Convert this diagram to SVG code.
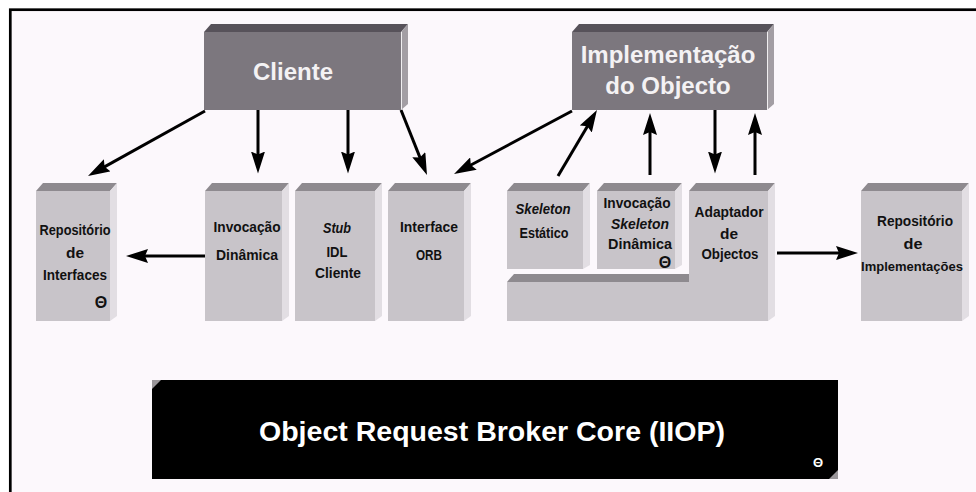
<svg xmlns="http://www.w3.org/2000/svg" width="976" height="492" viewBox="0 0 976 492">
<defs>
<style>
.face{fill:#c8c4c9}
.top{fill:#8e8a8f}
.side{fill:#e2dee3}
.bface{fill:#7c777e}
.btop{fill:#57525a}
.bside{fill:#a39ea4}
text{font-family:"Liberation Sans",Arial,sans-serif;font-weight:bold;text-anchor:middle}
.t{font-size:15.5px;fill:#111}
.i{font-style:italic}
.big{font-size:24px;fill:#f4f2f4}
.core{font-size:27px;fill:#fff}
.theta{font-size:16px;fill:#111}
.conn line{stroke:#000;stroke-width:3}
</style>
<marker id="ah" viewBox="0 0 22 14" refX="14" refY="7" markerWidth="22" markerHeight="14" markerUnits="userSpaceOnUse" orient="auto">
<path d="M0,0 L22,7 L0,14 L3,7 z" fill="#000"/>
</marker>
</defs>
<rect x="0" y="0" width="976" height="492" fill="#ffffff"/>
<rect x="10.3" y="9.7" width="980" height="500" fill="#fcf8fc" stroke="#000" stroke-width="2.7"/>

<g id="cliente">
<polygon class="btop" points="204,32 211,24 408,24 401,32"/>
<polygon class="bside" points="401,32 408,24 408,104 401,110"/>
<rect class="bface" x="204" y="32" width="197" height="78"/>
<line x1="401.5" y1="32" x2="401.5" y2="110" stroke="#f0eef0" stroke-width="1"/>
<text class="big" x="293" y="80">Cliente</text>
</g>

<g id="implementacao">
<polygon class="btop" points="572,32 579,24 774,24 767,32"/>
<polygon class="bside" points="767,32 774,24 774,104 767,110"/>
<rect class="bface" x="572" y="32" width="195" height="78"/>
<line x1="767.5" y1="32" x2="767.5" y2="110" stroke="#f0eef0" stroke-width="1"/>
<text class="big" x="668" y="63">Implementação</text>
<text class="big" x="668" y="94">do Objecto</text>
</g>

<g id="repositorio-interfaces">
<polygon class="top" points="36,191 43,183 117,183 110,191"/>
<polygon class="side" points="110,191 117,183 117,316 110,321"/>
<rect class="face" x="36" y="191" width="74" height="130"/>
<text class="t" x="75" y="235" textLength="71" lengthAdjust="spacingAndGlyphs">Repositório</text>
<text class="t" x="75" y="258" textLength="18" lengthAdjust="spacingAndGlyphs">de</text>
<text class="t" x="75" y="280" textLength="64" lengthAdjust="spacingAndGlyphs">Interfaces</text>
<text class="theta" x="101" y="308">Θ</text>
</g>

<g id="invocacao-dinamica">
<polygon class="top" points="205,191 212,183 289,183 282,191"/>
<polygon class="side" points="282,191 289,183 289,316 282,321"/>
<rect class="face" x="205" y="191" width="77" height="130"/>
<text class="t" x="247" y="232" textLength="67" lengthAdjust="spacingAndGlyphs">Invocação</text>
<text class="t" x="247" y="260" textLength="62" lengthAdjust="spacingAndGlyphs">Dinâmica</text>
</g>

<g id="stub-idl-cliente">
<polygon class="top" points="295,191 302,183 382,183 375,191"/>
<polygon class="side" points="375,191 382,183 382,316 375,321"/>
<rect class="face" x="295" y="191" width="80" height="130"/>
<text class="t i" x="337" y="233" textLength="28" lengthAdjust="spacingAndGlyphs">Stub</text>
<text class="t" x="337" y="257" textLength="21" lengthAdjust="spacingAndGlyphs">IDL</text>
<text class="t" x="338" y="278" textLength="46" lengthAdjust="spacingAndGlyphs">Cliente</text>
</g>

<g id="interface-orb">
<polygon class="top" points="388,191 395,183 471,183 464,191"/>
<polygon class="side" points="464,191 471,183 471,316 464,321"/>
<rect class="face" x="388" y="191" width="76" height="130"/>
<text class="t" x="429" y="232" textLength="58" lengthAdjust="spacingAndGlyphs">Interface</text>
<text class="t" x="429" y="260" textLength="26" lengthAdjust="spacingAndGlyphs">ORB</text>
</g>

<g id="base-skeleton">
<polygon class="top" points="507,282 514,274 696,274 689,282"/>
<rect class="face" x="507" y="282" width="182" height="39"/>
</g>

<g id="skeleton-estatico">
<polygon class="top" points="507,191 514,183 590,183 583,191"/>
<polygon class="side" points="583,191 590,183 590,265 583,269"/>
<rect class="face" x="507" y="191" width="76" height="78"/>
<text class="t i" x="543" y="214" textLength="55" lengthAdjust="spacingAndGlyphs">Skeleton</text>
<text class="t" x="544" y="238" textLength="49" lengthAdjust="spacingAndGlyphs">Estático</text>
</g>

<g id="invocacao-skeleton-dinamica">
<polygon class="top" points="597,191 604,183 682,183 675,191"/>
<polygon class="side" points="675,191 682,183 682,265 675,269"/>
<rect class="face" x="597" y="191" width="78" height="78"/>
<text class="t" x="637" y="208" textLength="67" lengthAdjust="spacingAndGlyphs">Invocação</text>
<text class="t i" x="640" y="229" textLength="58" lengthAdjust="spacingAndGlyphs">Skeleton</text>
<text class="t" x="640" y="249" textLength="64" lengthAdjust="spacingAndGlyphs">Dinâmica</text>
<text class="theta" x="665" y="268">Θ</text>
</g>

<g id="adaptador-objectos">
<polygon class="top" points="689,191 696,183 775,183 768,191"/>
<polygon class="side" points="768,191 775,183 775,316 768,321"/>
<rect class="face" x="689" y="191" width="79" height="130"/>
<text class="t" x="729" y="217" textLength="69" lengthAdjust="spacingAndGlyphs">Adaptador</text>
<text class="t" x="729" y="239" textLength="18" lengthAdjust="spacingAndGlyphs">de</text>
<text class="t" x="730" y="259" textLength="57" lengthAdjust="spacingAndGlyphs">Objectos</text>
</g>

<g id="repositorio-implementacoes">
<polygon class="top" points="861,191 868,183 969,183 962,191"/>
<polygon class="side" points="962,191 969,183 969,316 962,321"/>
<rect class="face" x="861" y="191" width="101" height="130"/>
<text class="t" x="915" y="226" textLength="76" lengthAdjust="spacingAndGlyphs">Repositório</text>
<text class="t" x="913" y="249" textLength="19" lengthAdjust="spacingAndGlyphs">de</text>
<text class="t" x="912" y="271" style="font-size:13px">Implementações</text>
</g>

<g id="orb-core">
<rect x="152" y="380" width="686" height="99" fill="#000"/>
<polygon points="152,380 161,380 152,389" fill="#9a969a"/>
<polygon points="838,470 838,479 829,479" fill="#9a969a"/>
<text class="core" x="492" y="441" textLength="466" lengthAdjust="spacingAndGlyphs">Object Request Broker Core (IIOP)</text>
<text class="theta" x="818" y="467" style="fill:#fff;font-size:13px">Θ</text>
</g>

<g id="connectors" class="conn">
<line x1="205" y1="111" x2="95" y2="172.1" marker-end="url(#ah)"/>
<line x1="258" y1="110" x2="258" y2="165.5" marker-end="url(#ah)"/>
<line x1="348" y1="110" x2="348" y2="165.5" marker-end="url(#ah)"/>
<line x1="401" y1="110" x2="424" y2="167.6" marker-end="url(#ah)"/>
<line x1="572" y1="111" x2="461.1" y2="170.2" marker-end="url(#ah)"/>
<line x1="558" y1="176" x2="592.9" y2="116.9" marker-end="url(#ah)"/>
<line x1="650" y1="175" x2="650" y2="121" marker-end="url(#ah)"/>
<line x1="715" y1="110" x2="715" y2="165.5" marker-end="url(#ah)"/>
<line x1="755" y1="175" x2="755" y2="121" marker-end="url(#ah)"/>
<line x1="205" y1="256" x2="134" y2="256" marker-end="url(#ah)"/>
<line x1="777" y1="253" x2="850" y2="253" marker-end="url(#ah)"/>
</g>
</svg>
